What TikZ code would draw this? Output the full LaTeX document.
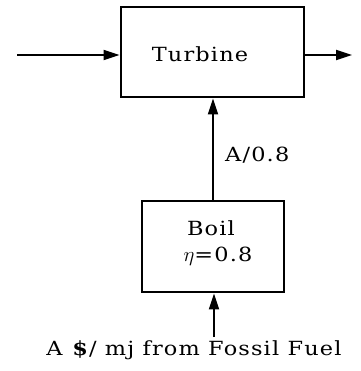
\documentclass[tikz,border=0pt]{standalone}
\usepackage{fontspec}
\newfontfamily\widefont{DejaVu Serif}[FakeStretch=1.15, LetterSpace=6]
\usetikzlibrary{arrows.meta, positioning}
\tikzset{
  block/.style={draw, line width=2.8pt, inner sep=0pt},
  flow/.style={line width=1.8pt, -{Triangle[length=16pt, width=10pt]}},
  lbl/.style={font=\widefont\fontsize{19.5}{23}\selectfont, inner sep=0pt, anchor=base}
}
\begin{document}
\begin{tikzpicture}[x=1pt, y=-1pt]
    \useasboundingbox (0,0) rectangle (360,371);

    % blocks
    \node[block, minimum width=183pt, minimum height=90pt] (turbine) at (212.5,52) {};
    \node[block, minimum width=142pt, minimum height=91pt] (boil) at (213,246.5) {};

    \coordinate (in) at (17,55);
    \coordinate (out) at (352,55);
    \coordinate (fuel) at (214,337);

    % flows
    \draw[flow] (in) -- (in -| turbine.west);
    \draw[flow] (out -| turbine.east) -- (out);
    \draw[flow] (boil.north) -- (boil.north |- turbine.south);
    \draw[flow] (fuel) -- (fuel |- boil.south);

    % texts
    \node[lbl] (turbinetext) at (200,62) {Turbine};
    \node[lbl] (boiltext) at (211,235) {Boil};
    \node[lbl] (etatext) at (218,261) {$\eta$=0.8};
    \node[lbl, anchor=base west] (ratio) at (225,161) {A/0.8};
    \node[lbl] (fueltext) at (194,355) {A \textbf{\$}/ mj from Fossil Fuel};
\end{tikzpicture}
\end{document}
